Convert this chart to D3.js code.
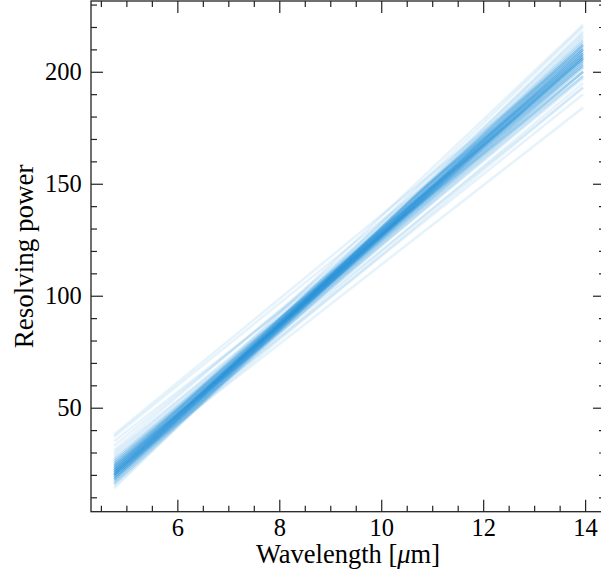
<!DOCTYPE html>
<html>
<head>
<meta charset="utf-8">
<script src="https://cdn.jsdelivr.net/npm/d3@7"></script>
<style>
  html, body { margin: 0; padding: 0; background: #fff; }
  svg { display: block; }
  text { font-family: "Liberation Serif", "Times New Roman", serif; fill: #000; }
</style>
</head>
<body>
<div id="chart"></div>
<script>
// ---- data ----
const wavelengths = [4.76, 13.96];              // start / end wavelength of every curve [µm]
const resolvingStart = [15,16,17,18,18,19,19,20,20,20,21,21,21,22,22,22,23,23,23,24,24,24,25,25,25,26,26,26,27,27,
                        19,17,21,23,16,18,20,22,24,28,
                        17,18,19,20,21,21,22,23,24,20,19,22,23,18,21,25,16,20,
                        29,30,31,33,35,37,38,
                        14,18,22,20,
                        20,22,21,19,24];
const resolvingEnd   = [212,214,210,208,212,206,210,204,208,212,202,206,209,204,207,210,200,205,208,202,206,211,200,204,208,198,203,207,200,205,
                        214,216,212,212,207,203,200,198,197,202,
                        209,211,207,209,205,210,206,203,209,213,211,208,206,215,213,206,210,207,
                        205,200,208,203,198,206,210,
                        218,220,221,217,
                        195,190,184,193,193];
const xMajorTicks = [6, 8, 10, 12, 14];
const yMajorTicks = [50, 100, 150, 200];
const xLabel = "Wavelength [";
const xLabelMu = "μ";
const xLabelEnd = "m]";
const yLabel = "Resolving power";

// ---- layout ----
const W = 601, H = 577;
const plot = { left: 91, right: 605, top: 1, bottom: 511.7 };
const xDomain = [4.306, 14.39];
const yDomain = [3.57, 231.6];

const x = d3.scaleLinear().domain(xDomain).range([plot.left, plot.right]);
const y = d3.scaleLinear().domain(yDomain).range([plot.bottom, plot.top]);

const svg = d3.select("#chart").append("svg")
  .attr("width", W).attr("height", H).attr("viewBox", `0 0 ${W} ${H}`);

// ---- curves ----
const series = resolvingStart.map((s, i) => wavelengths.map((w, j) => ({ x: w, y: j === 0 ? s : resolvingEnd[i] })));
const line = d3.line().x(d => x(d.x)).y(d => y(d.y));
svg.append("g")
  .selectAll("path").data(series).join("path")
  .attr("d", line)
  .attr("fill", "none")
  .attr("stroke", "rgb(22,138,212)")
  .attr("stroke-opacity", 0.1)
  .attr("stroke-width", 2.6)
  .attr("stroke-linecap", "butt");

// ---- ticks ----
const xMinor = d3.range(4.5, 14.5, 0.5).filter(v => !xMajorTicks.includes(v));
const yMinor = d3.range(10, 231, 10).filter(v => !yMajorTicks.includes(v));
const MAJ = 12, MIN = 6;

function styleAxis(g) {
  g.select(".domain").remove();
  g.selectAll(".tick line").attr("stroke", "#222").attr("stroke-width", 1.2);
  g.selectAll(".tick text").attr("font-size", 24.5).attr("fill", "#000")
    .style("font-family", '"Liberation Serif", "Times New Roman", serif');
}

svg.append("g").attr("transform", `translate(0,${plot.bottom})`)
  .call(d3.axisBottom(x).tickValues(xMajorTicks).tickSize(-MAJ).tickPadding(6.8).tickFormat(d3.format("d")))
  .call(styleAxis);
svg.append("g").attr("transform", `translate(0,${plot.bottom})`)
  .call(d3.axisBottom(x).tickValues(xMinor).tickSize(-MIN).tickFormat(""))
  .call(styleAxis);
svg.append("g").attr("transform", `translate(0,${plot.top})`)
  .call(d3.axisTop(x).tickValues(xMajorTicks).tickSize(-MAJ).tickFormat(""))
  .call(styleAxis);
svg.append("g").attr("transform", `translate(0,${plot.top})`)
  .call(d3.axisTop(x).tickValues(xMinor).tickSize(-MIN).tickFormat(""))
  .call(styleAxis);

svg.append("g").attr("transform", `translate(${plot.left},0)`)
  .call(d3.axisLeft(y).tickValues(yMajorTicks).tickSize(-MAJ).tickPadding(9.3).tickFormat(d3.format("d")))
  .call(styleAxis);
svg.append("g").attr("transform", `translate(${plot.left},0)`)
  .call(d3.axisLeft(y).tickValues(yMinor).tickSize(-MIN).tickFormat(""))
  .call(styleAxis);
svg.append("g").attr("transform", `translate(${plot.right},0)`)
  .call(d3.axisRight(y).tickValues(yMajorTicks).tickSize(-MAJ).tickFormat(""))
  .call(styleAxis);
svg.append("g").attr("transform", `translate(${plot.right},0)`)
  .call(d3.axisRight(y).tickValues(yMinor).tickSize(-MIN).tickFormat(""))
  .call(styleAxis);

// ---- frame ----
svg.append("rect")
  .attr("x", plot.left).attr("y", plot.top)
  .attr("width", plot.right - plot.left).attr("height", plot.bottom - plot.top)
  .attr("fill", "none").attr("stroke", "#222").attr("stroke-width", 1.3);

// ---- axis labels ----
const xl = svg.append("text")
  .attr("x", (plot.left + plot.right) / 2).attr("y", 563)
  .attr("text-anchor", "middle").attr("font-size", 26.5);
xl.append("tspan").text(xLabel);
xl.append("tspan").attr("font-style", "italic").text(xLabelMu);
xl.append("tspan").text(xLabelEnd);

svg.append("text")
  .attr("transform", `translate(33,${(plot.top + plot.bottom) / 2}) rotate(-90)`)
  .attr("text-anchor", "middle").attr("font-size", 27)
  .text(yLabel);
</script>
</body>
</html>
